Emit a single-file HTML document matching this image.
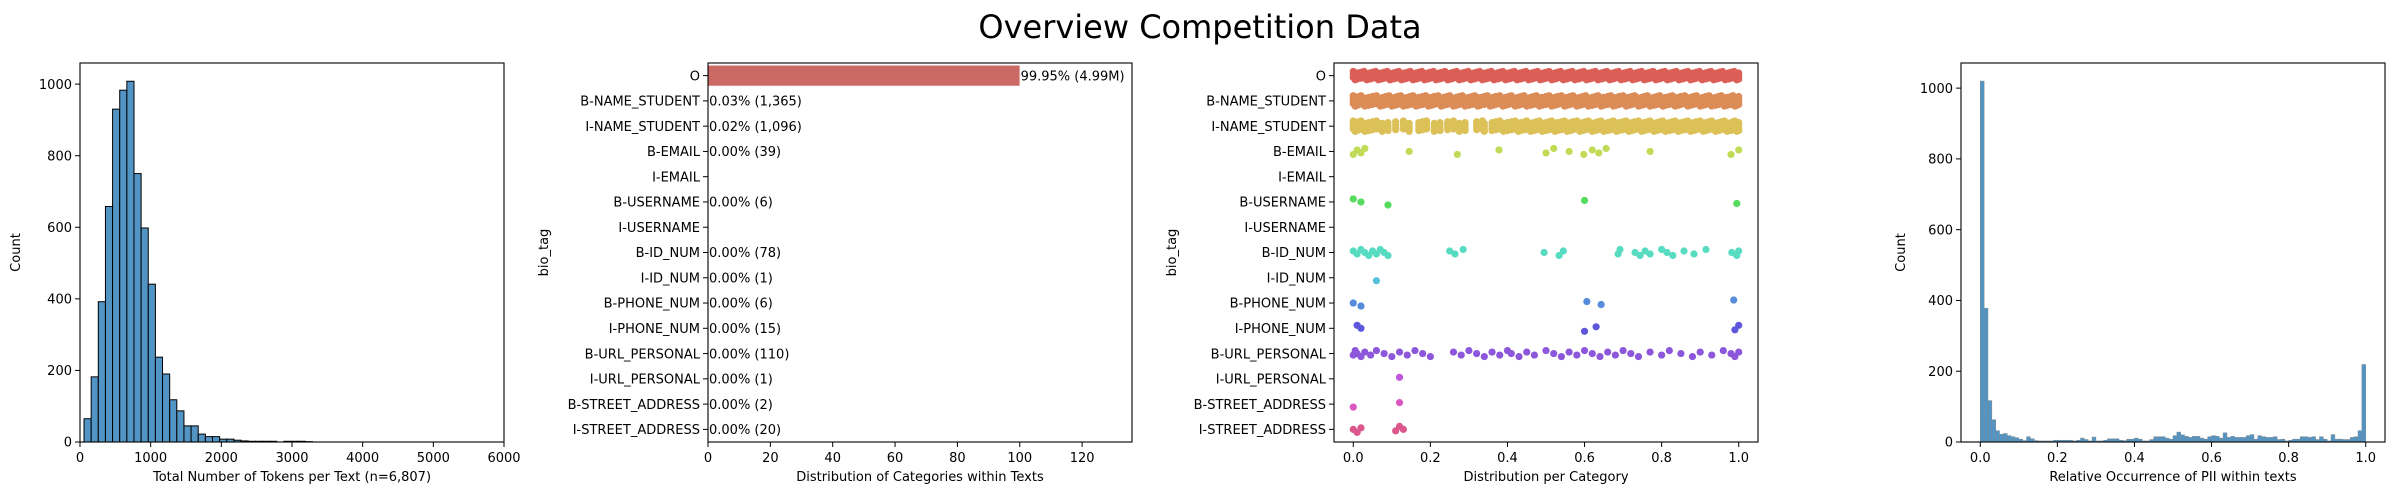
<!DOCTYPE html>
<html><head><meta charset="utf-8"><style>
html,body{margin:0;padding:0;background:#fff;}
svg{display:block;font-family:"DejaVu Sans","Liberation Sans",sans-serif;}
</style></head><body>
<svg id="fig" width="2400" height="500" viewBox="0 0 2400 500" xmlns="http://www.w3.org/2000/svg">
<text x="1200" y="38" text-anchor="middle" font-size="32" fill="#000">Overview Competition Data</text>
</svg>
<script>
// ---------- data ----------
const tokBinStart = 57;
const tokBinWidth = 101;
const tokCounts = [65,182,392,658,930,983,1008,750,598,441,237,190,118,87,45,45,22,15,15,8,8,5,3,2,2,2,2,0,2,2,2,1];
const tokXTicks = [0,1000,2000,3000,4000,5000,6000];
const countTicks = [0,200,400,600,800,1000];

const categories = ["O","B-NAME_STUDENT","I-NAME_STUDENT","B-EMAIL","I-EMAIL","B-USERNAME","I-USERNAME","B-ID_NUM","I-ID_NUM","B-PHONE_NUM","I-PHONE_NUM","B-URL_PERSONAL","I-URL_PERSONAL","B-STREET_ADDRESS","I-STREET_ADDRESS"];
const catPercents = [99.95,0.03,0.02,0.00,null,0.00,null,0.00,0.00,0.00,0.00,0.00,0.00,0.00,0.00];
const catCountLabels = ["4.99M","1,365","1,096","39",null,"6",null,"78","1","6","15","110","1","2","20"];
const pctXTicks = [0,20,40,60,80,100,120];

const stripO = [0,0.005,0.01,0.02,0.028,0.035,0.043,0.05,0.058,0.065,0.073,0.08,0.088,0.095,0.103,0.11,0.118,0.125,0.133,0.14,0.148,0.155,0.163,0.17,0.178,0.185,0.193,0.2,0.208,0.215,0.223,0.23,0.238,0.245,0.253,0.26,0.268,0.275,0.283,0.29,0.298,0.305,0.313,0.32,0.328,0.335,0.343,0.35,0.358,0.365,0.373,0.38,0.388,0.395,0.403,0.41,0.418,0.425,0.433,0.44,0.448,0.455,0.463,0.47,0.478,0.485,0.493,0.5,0.508,0.515,0.523,0.53,0.538,0.545,0.553,0.56,0.568,0.575,0.583,0.59,0.598,0.605,0.613,0.62,0.628,0.635,0.643,0.65,0.658,0.665,0.673,0.68,0.688,0.695,0.703,0.71,0.718,0.725,0.733,0.74,0.748,0.755,0.763,0.77,0.778,0.785,0.793,0.8,0.808,0.815,0.823,0.83,0.838,0.845,0.853,0.86,0.868,0.875,0.883,0.89,0.898,0.905,0.913,0.92,0.928,0.935,0.943,0.95,0.958,0.965,0.973,0.98,0.988,0.995,1.0];
const stripBName = [0,0.005,0.01,0.015,0.02,0.03,0.04,0.05,0.06,0.07,0.078,0.085,0.093,0.1,0.108,0.115,0.123,0.13,0.14,0.148,0.155,0.163,0.17,0.18,0.188,0.195,0.203,0.21,0.22,0.228,0.235,0.243,0.25,0.26,0.268,0.275,0.283,0.29,0.3,0.308,0.315,0.323,0.33,0.34,0.348,0.355,0.363,0.37,0.38,0.388,0.395,0.403,0.41,0.42,0.428,0.435,0.443,0.45,0.46,0.468,0.475,0.483,0.49,0.5,0.508,0.515,0.523,0.53,0.54,0.548,0.555,0.563,0.57,0.58,0.588,0.595,0.603,0.61,0.62,0.628,0.635,0.643,0.65,0.66,0.668,0.675,0.683,0.69,0.7,0.708,0.715,0.723,0.73,0.74,0.748,0.755,0.763,0.77,0.78,0.788,0.795,0.803,0.81,0.82,0.828,0.835,0.843,0.85,0.86,0.868,0.875,0.883,0.89,0.9,0.908,0.915,0.923,0.93,0.94,0.948,0.955,0.963,0.97,0.98,0.985,0.99,0.995,1.0];
const stripIName = [0,0.005,0.01,0.015,0.02,0.03,0.04,0.05,0.06,0.075,0.09,0.11,0.13,0.145,0.17,0.18,0.19,0.21,0.225,0.245,0.26,0.275,0.29,0.32,0.335,0.34,0.36,0.37,0.38,0.39,0.4,0.41,0.42,0.428,0.435,0.445,0.45,0.46,0.468,0.475,0.483,0.49,0.5,0.508,0.515,0.523,0.53,0.54,0.548,0.555,0.563,0.57,0.58,0.588,0.595,0.603,0.61,0.62,0.628,0.635,0.643,0.65,0.66,0.668,0.675,0.683,0.69,0.7,0.708,0.715,0.723,0.73,0.74,0.748,0.755,0.763,0.77,0.78,0.788,0.795,0.803,0.81,0.82,0.828,0.835,0.843,0.85,0.86,0.868,0.875,0.883,0.89,0.9,0.908,0.915,0.923,0.93,0.94,0.948,0.955,0.963,0.97,0.98,0.985,0.99,0.995,1.0];
const stripBEmail = [0,0.01,0.02,0.03,0.145,0.27,0.378,0.5,0.52,0.56,0.598,0.62,0.637,0.656,0.77,0.98,1.0];
const stripIEmail = [];
const stripBUser = [0,0.02,0.09,0.6,0.995];
const stripIUser = [];
const stripBId = [0,0.01,0.02,0.03,0.04,0.05,0.06,0.07,0.08,0.09,0.25,0.264,0.285,0.495,0.534,0.545,0.687,0.692,0.731,0.744,0.757,0.77,0.8,0.814,0.829,0.858,0.884,0.915,0.982,0.995,1.0];
const stripIId = [0.06];
const stripBPhone = [0,0.02,0.606,0.643,0.987];
const stripIPhone = [0.01,0.02,0.6,0.63,0.99,1.0];
const stripBUrl = [0,0.005,0.01,0.02,0.03,0.045,0.06,0.08,0.1,0.12,0.14,0.16,0.18,0.2,0.26,0.28,0.3,0.32,0.34,0.36,0.38,0.4,0.41,0.43,0.45,0.47,0.5,0.52,0.54,0.56,0.58,0.6,0.62,0.64,0.66,0.68,0.7,0.72,0.74,0.77,0.8,0.82,0.85,0.88,0.9,0.93,0.96,0.98,0.99,1.0];
const stripIUrl = [0.12];
const stripBStreet = [0,0.12];
const stripIStreet = [0,0.01,0.02,0.11,0.12,0.13];
const stripSeries = [stripO,stripBName,stripIName,stripBEmail,stripIEmail,stripBUser,stripIUser,stripBId,stripIId,stripBPhone,stripIPhone,stripBUrl,stripIUrl,stripBStreet,stripIStreet];
const stripXTicks = [0.0,0.2,0.4,0.6,0.8,1.0];

const relBinWidth = 0.01;
const relCounts = [1020,378,117,63,32,22,24,18,15,12,8,4,15,9,4,3,3,3,3,5,5,5,5,5,3,5,11,7,3,14,3,3,5,9,9,9,5,4,8,8,11,8,3,3,7,15,15,15,11,8,18,28,20,16,13,16,16,11,8,15,18,16,11,26,13,16,13,13,13,18,21,8,18,15,13,13,15,7,8,3,5,8,8,15,15,13,15,7,15,8,3,21,8,8,7,7,13,15,32,219];
const relXTicks = [0.0,0.2,0.4,0.6,0.8,1.0];

// ---------- helpers ----------
const NS = "http://www.w3.org/2000/svg";
const svg = document.getElementById('fig');
function mk(tag, attrs, parent){ const e=document.createElementNS(NS,tag); for(const k in attrs) e.setAttribute(k,attrs[k]); (parent||svg).appendChild(e); return e; }
const TOP=63, BOT=442, H=BOT-TOP;
const FS=13;
const pal = ["#db5f57","#db8c57","#dbc157","#c1db57","#8cdb57","#57db5f","#57db8c","#57dbc1","#57c1db","#578cdb","#5f57db","#8c57db","#c157db","#db57c1","#db578c"];

function frame(x0,w,name){
  const r = mk('rect',{x:x0,y:TOP,width:w,height:H,fill:'none',stroke:'#000','stroke-width':1.1});
  
  
}
function xTick(px,label,name){
  const l = mk('line',{x1:px,x2:px,y1:BOT,y2:BOT+5,stroke:'#000','stroke-width':1});
  
  
  const t = mk('text',{x:px,y:BOT+20,'text-anchor':'middle','font-size':FS,fill:'#000'});
  t.textContent=label;
  
  
}
function yTick(x0,py,label,name){
  const l = mk('line',{x1:x0-5,x2:x0,y1:py,y2:py,stroke:'#000','stroke-width':1});
  
  
  const t = mk('text',{x:x0-8,y:py+4.7,'text-anchor':'end','font-size':FS,fill:'#000'});
  t.textContent=label;
  
  
}
function xTitle(cx,label,name){
  const t = mk('text',{x:cx,y:481,'text-anchor':'middle','font-size':FS,fill:'#000'});
  t.textContent=label;
  
  
}
function yTitle(x,label,name){
  const cy=(TOP+BOT)/2;
  const t = mk('text',{x:x,y:cy,'text-anchor':'middle','font-size':FS,fill:'#000',transform:`rotate(-90 ${x} ${cy})`});
  t.textContent=label;
  
  
}

// ---------- panel 1: token histogram ----------
(function(){
  const x0=80, w=424, xmax=6000, ymax=1059;
  const sx=v=>x0+v/xmax*w, sy=v=>BOT-v/ymax*H;
  tokCounts.forEach((c,i)=>{
    if(c<=0) return;
    const a=tokBinStart+i*tokBinWidth, b=a+tokBinWidth;
    const r=mk('rect',{x:sx(a),y:sy(c),width:sx(b)-sx(a),height:BOT-sy(c),fill:'#5294c4',stroke:'#000','stroke-width':1});
    
    
  });
  frame(x0,w,'token-histogram');
  tokXTicks.forEach(v=>xTick(sx(v),String(v),'token-x'));
  countTicks.forEach(v=>yTick(x0,sy(v),String(v),'token-y'));
  xTitle(x0+w/2,'Total Number of Tokens per Text (n=6,807)','token-x-axis-title');
  yTitle(20,'Count','token-y-axis-title');
})();

// ---------- panel 2: category bars ----------
(function(){
  const x0=708, w=424, xmax=136, band=H/categories.length;
  const sx=v=>x0+v/xmax*w;
  categories.forEach((c,i)=>{
    const cy=TOP+band*(i+0.5);
    const p=catPercents[i];
    if(p!==null){
      const r=mk('rect',{x:x0,y:cy-band*0.4,width:sx(p)-x0,height:band*0.8,fill:'#cb6a64'});
      
      
      const t=mk('text',{x:sx(p)+1,y:cy+4.7,'font-size':FS,fill:'#000'});
      t.textContent=p.toFixed(2)+'% ('+catCountLabels[i]+')';
      
      
    }
    yTick(x0,cy,c,'category-y');
  });
  frame(x0,w,'category-bars');
  pctXTicks.forEach(v=>xTick(sx(v),String(v),'category-x'));
  xTitle(x0+w/2,'Distribution of Categories within Texts','category-x-axis-title');
  yTitle(548,'bio_tag','category-y-axis-title');
})();

// ---------- panel 3: strip plot ----------
(function(){
  const x0=1334, w=424, xmin=-0.05, xmax=1.05, band=H/categories.length;
  const sx=v=>x0+(v-xmin)/(xmax-xmin)*w;
  categories.forEach((c,i)=>{
    const cy=TOP+band*(i+0.5);
    const dense = i<3;
    stripSeries[i].forEach((v,j)=>{
      const jit=(((j*7+i*3)%5)/4-0.5)*6;
      const offs = dense ? (i===0?[-3,0,3]:[-4,-1,2,4]) : [jit];
      offs.forEach(o=>{
        const d=mk('circle',{cx:sx(v),cy:cy+o+(dense?(((j*3)%4)-1.5)*0.8:0),r:3.6,fill:pal[i]});
        
        
      });
    });
    yTick(x0,cy,c,'strip-y');
  });
  frame(x0,w,'strip-plot');
  stripXTicks.forEach(v=>xTick(sx(v),v.toFixed(1),'strip-x'));
  xTitle(x0+w/2,'Distribution per Category','strip-x-axis-title');
  yTitle(1176,'bio_tag','strip-y-axis-title');
})();

// ---------- panel 4: relative occurrence histogram ----------
(function(){
  const x0=1961, w=424, xmin=-0.05, xmax=1.05, ymax=1071;
  const sx=v=>x0+(v-xmin)/(xmax-xmin)*w, sy=v=>BOT-v/ymax*H;
  relCounts.forEach((c,i)=>{
    if(c<=0) return;
    const a=i*relBinWidth, b=a+relBinWidth;
    const r=mk('rect',{x:sx(a),y:sy(c),width:sx(b)-sx(a),height:BOT-sy(c),fill:'#5294c4',stroke:'#7f8a94','stroke-width':0.5});
    
    
  });
  frame(x0,w,'relative-histogram');
  relXTicks.forEach(v=>xTick(sx(v),v.toFixed(1),'relative-x'));
  countTicks.forEach(v=>yTick(x0,sy(v),String(v),'relative-y'));
  xTitle(x0+w/2,'Relative Occurrence of PII within texts','relative-x-axis-title');
  yTitle(1905,'Count','relative-y-axis-title');
})();
</script>
</body></html>
